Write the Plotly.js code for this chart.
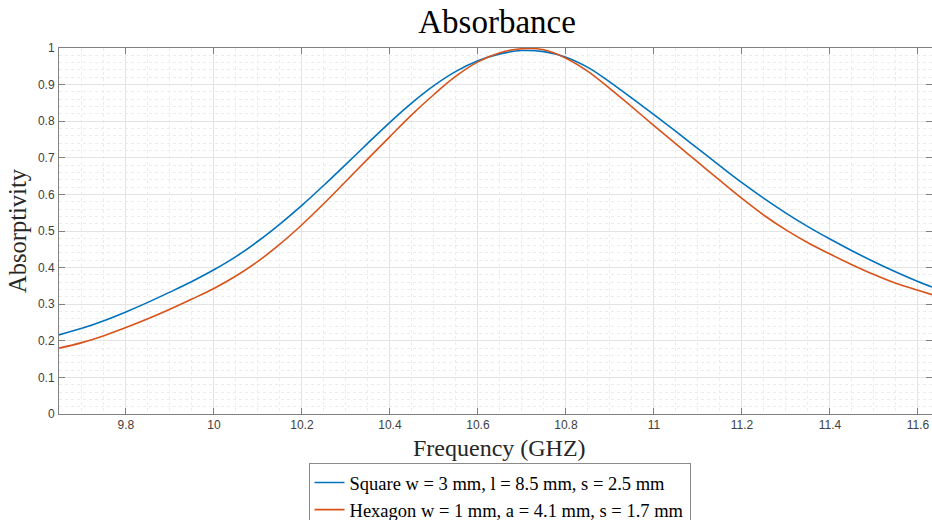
<!DOCTYPE html>
<html>
<head>
<meta charset="utf-8">
<script src="https://cdn.plot.ly/plotly-3.0.1.min.js"></script>
<style>
html,body{margin:0;padding:0;background:#fff;overflow:hidden;}
#chart{width:932px;height:560px;}
</style>
</head>
<body>
<div id="chart"></div>
<script>
const freq = [9.648, 9.70, 9.75, 9.80, 9.85, 9.90, 9.95, 10.00, 10.05, 10.10, 10.15, 10.20, 10.25, 10.30, 10.35, 10.40, 10.45, 10.50, 10.55, 10.60, 10.65, 10.70, 10.75, 10.80, 10.85, 10.90, 10.95, 11.00, 11.05, 11.10, 11.15, 11.20, 11.25, 11.30, 11.35, 11.40, 11.45, 11.50, 11.55, 11.60, 11.632];
const squareAbs = [0.216, 0.234, 0.255, 0.279, 0.305, 0.333, 0.362, 0.394, 0.430, 0.472, 0.519, 0.570, 0.625, 0.682, 0.740, 0.797, 0.850, 0.897, 0.936, 0.965, 0.984, 0.993, 0.990, 0.975, 0.947, 0.907, 0.863, 0.818, 0.772, 0.725, 0.678, 0.632, 0.589, 0.549, 0.512, 0.478, 0.446, 0.416, 0.388, 0.362, 0.347];
const hexAbs = [0.180, 0.195, 0.214, 0.236, 0.260, 0.286, 0.314, 0.343, 0.377, 0.417, 0.464, 0.517, 0.575, 0.636, 0.697, 0.758, 0.818, 0.873, 0.923, 0.962, 0.987, 0.998, 0.995, 0.972, 0.936, 0.889, 0.839, 0.788, 0.738, 0.688, 0.638, 0.589, 0.543, 0.503, 0.468, 0.437, 0.408, 0.381, 0.357, 0.338, 0.326];
const seriesNames = ["Square w = 3 mm, l = 8.5 mm, s = 2.5 mm", "Hexagon w = 1 mm, a = 4.1 mm, s = 1.7 mm"];
const xTicks = [9.8, 10, 10.2, 10.4, 10.6, 10.8, 11, 11.2, 11.4, 11.6];
const yTicks = [0, 0.1, 0.2, 0.3, 0.4, 0.5, 0.6, 0.7, 0.8, 0.9, 1];
const xTitle = "Frequency (GHZ)";
const yTitle = "Absorptivity";
const chartTitle = "Absorbance";

const serif = "Liberation Serif, DejaVu Serif, serif";
const sans = "Liberation Sans, Arial, sans-serif";

const traces = [
  {x: freq, y: squareAbs, name: seriesNames[0], type: 'scatter', mode: 'lines',
   line: {color: '#0072BD', width: 1.6, shape: 'spline', smoothing: 1}},
  {x: freq, y: hexAbs, name: seriesNames[1], type: 'scatter', mode: 'lines',
   line: {color: '#D95319', width: 1.6, shape: 'spline', smoothing: 1}}
];

const axisCommon = {
  showline: true, linecolor: '#808080', linewidth: 1,
  ticks: 'inside', ticklen: 6, tickcolor: '#808080', tickwidth: 1,
  mirror: 'ticks', showgrid: true, gridcolor: '#e3e3e3', gridwidth: 1,
  zeroline: false,
  tickfont: {family: sans, size: 12, color: '#404040'}
};

const layout = {
  width: 932, height: 560,
  margin: {l: 59, r: 0, t: 48, b: 146},
  paper_bgcolor: '#ffffff', plot_bgcolor: '#ffffff',
  title: {text: chartTitle, font: {family: serif, size: 33, color: '#000'},
          x: 0.5333, xanchor: 'center', xref: 'container', y: 0.9625, yanchor: 'middle', yref: 'container'},
  xaxis: Object.assign({}, axisCommon, {
    range: [9.648, 11.632], tickvals: xTicks, ticklabelstandoff: 0,
    minor: {dtick: 0.05, tick0: 9.8, showgrid: true, gridcolor: '#ececec', griddash: 'dot', ticks: ''}
  }),
  yaxis: Object.assign({}, axisCommon, {
    range: [0, 1], tickvals: yTicks, ticklabelstandoff: 1,
    minor: {dtick: 0.02, tick0: 0, showgrid: true, gridcolor: '#ececec', griddash: 'dot', ticks: ''},
    title: {text: yTitle, font: {family: serif, size: 24.5, color: '#262626'}, standoff: 4}
  }),
  annotations: [
    {text: xTitle, xref: 'paper', yref: 'paper', x: 0.5041, y: -0.0929, xanchor: 'center', yanchor: 'middle',
     showarrow: false, font: {family: serif, size: 24, color: '#262626'}}
  ],
  showlegend: true,
  legend: {x: 0.5046, xanchor: 'center', xref: 'paper', y: -0.1339, yanchor: 'top', yref: 'paper',
           bgcolor: '#ffffff', bordercolor: '#8a8a8a', borderwidth: 1,
           font: {family: serif, size: 18.5, color: '#000'}, itemwidth: 30, tracegroupgap: 0}
};

Plotly.newPlot('chart', traces, layout, {displayModeBar: false, staticPlot: true});
</script>
</body>
</html>
